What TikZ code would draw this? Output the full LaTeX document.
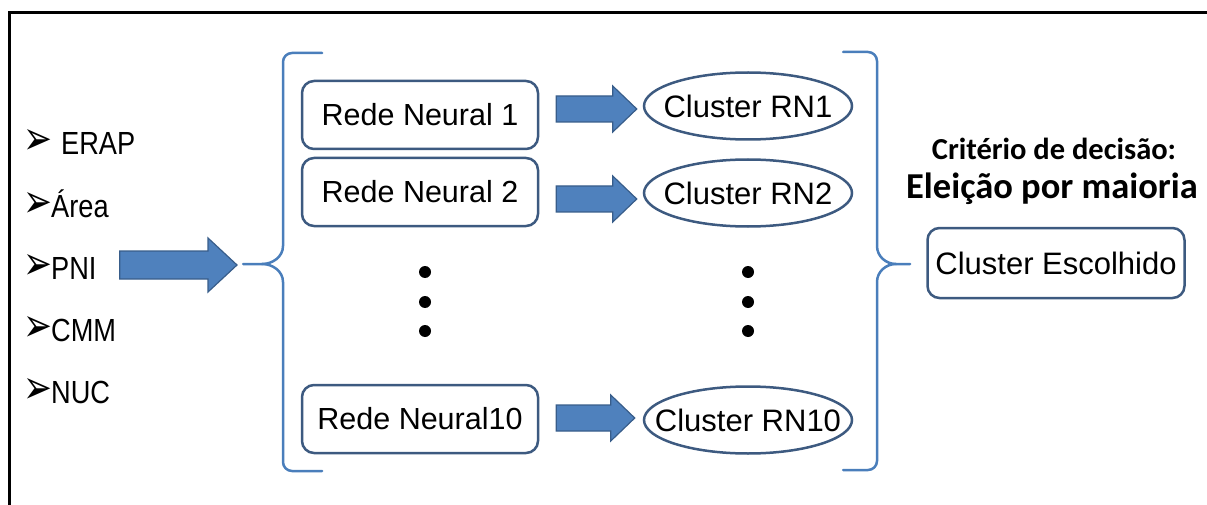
\documentclass[tikz,border=0pt]{standalone}
\usepackage{graphicx}
\usepackage{fontspec}
\setmainfont{Liberation Sans}
\newfontfamily\dvfont{DejaVu Sans}
\newfontfamily\carfont{Carlito}
\newfontfamily\narrowfont[FakeStretch=0.85]{Liberation Sans}
\usetikzlibrary{shapes.geometric,calc}
\definecolor{boxline}{HTML}{3D5A80}
\definecolor{arrfill}{HTML}{4F81BD}
\definecolor{arrline}{HTML}{385D8A}
\definecolor{bracecol}{HTML}{4A7EBB}
\newcommand{\blockarr}[5]{%
  \filldraw[blk] let \p1=(#1), \p2=(#2) in
    (\x1,\y1+#3) -- (\x2-#5,\y1+#3) -- (\x2-#5,\y1+#4) -- (\x2,\y1)
    -- (\x2-#5,\y1-#4) -- (\x2-#5,\y1-#3) -- (\x1,\y1-#3) -- cycle;}
\newcommand{\bul}{\raisebox{0pt}{\resizebox{29pt}{25pt}{\dvfont ➢}}\hspace{-1pt}}
\begin{document}
\begin{tikzpicture}[x=1pt,y=-1pt,
  rbox/.style={draw=boxline, line width=2.5pt, rounded corners=12pt,
    minimum width=236pt, minimum height=68pt, inner sep=0pt, fill=white,
    font=\fontsize{30.5}{32}\selectfont},
  cell/.style={ellipse, draw=boxline, line width=2.5pt, minimum width=208pt,
    minimum height=67pt, inner sep=0pt, fill=white,
    font=\fontsize{31}{32}\selectfont},
  blk/.style={fill=arrfill, draw=arrline, line width=1.2pt},
  brace/.style={draw=bracecol, line width=2.5pt, line join=round, line cap=round},
  bullet/.style={anchor=west, inner sep=0pt, font=\narrowfont\fontsize{32}{34}\selectfont},
  dot/.style={circle, fill=black, minimum size=12pt, inner sep=0pt},
  crit/.style={inner sep=0pt, font=\carfont\bfseries\fontsize{30.5}{32}\selectfont},
  elei/.style={inner sep=0pt, font=\carfont\bfseries\fontsize{36.5}{38}\selectfont}]
\useasboundingbox (0,0) rectangle (1207,505);
\draw[line width=3pt] (1207,13) -- (9,13) -- (9,505);

% input list
\node[bullet] (b1) at (23,142) {\bul\hspace{10pt}ERAP};
\node[bullet] (b2) at (23,204) {\bul Área};
\node[bullet] (b3) at (23,267) {\bul PNI};
\node[bullet] (b4) at (23,329) {\bul CMM};
\node[bullet] (b5) at (23,391) {\bul NUC};

% left brace
\coordinate (lbt) at (243,264);
\draw[brace] (322,53) -- (292,53) to[out=180,in=90] (283,62) -- (283,246)
  to[out=270,in=0] (262,264) -- (lbt);
\draw[brace] (262,264) to[out=0,in=90] (283,282) -- (283,462)
  to[out=270,in=180] (292,471) -- (322,471);

% right brace
\coordinate (rbt) at (910,264);
\draw[brace] (843,52) -- (868,52) to[out=0,in=90] (877,61) -- (877,246)
  to[out=270,in=180] (896,264) -- (rbt);
\draw[brace] (896,264) to[out=180,in=90] (877,282) -- (877,461)
  to[out=270,in=0] (868,470) -- (843,470);

% networks
\node[rbox] (r1) at (420,115) {Rede Neural 1};
\node[rbox] (r2) at (420,192) {Rede Neural 2};
\node[rbox] (r10) at (420,419) {Rede Neural10};

\node[cell] (c1) at (748,106) {\makebox[0pt]{Cluster RN1}};
\node[cell] (c2) at (748,193) {\makebox[0pt]{Cluster RN2}};
\node[cell] (c10) at (748,420) {\makebox[0pt]{Cluster RN10}};

% dots
\foreach \yy [count=\i] in {272,302,331}{
  \node[dot] (dl\i) at (425,\yy) {};
  \node[dot] (dr\i) at (748,\yy) {};
}

% block arrows
\blockarr{$(b3.east)+(23,-2)$}{$(lbt)+(-6,0)$}{14pt}{27pt}{29pt}
\blockarr{$(r1.east)+(17,-6)$}{$(c1.west)+(-6,0)$}{13pt}{23pt}{24pt}
\blockarr{$(r2.east)+(17,7)$}{$(c2.west)+(-6,0)$}{13pt}{23pt}{24pt}
\blockarr{$(r10.east)+(17,-1)$}{$(c10.west)+(-8,0)$}{13pt}{23pt}{24pt}

% decision
\node[crit] (t1) at (1054,149) {Critério de decisão:};
\node[elei] (t2) at (1052,189) {Eleição por maioria};
\node[rbox, minimum width=257pt, minimum height=70pt, font=\fontsize{31}{32}\selectfont] (ce) at (1056,263) {Cluster Escolhido};
\end{tikzpicture}
\end{document}
